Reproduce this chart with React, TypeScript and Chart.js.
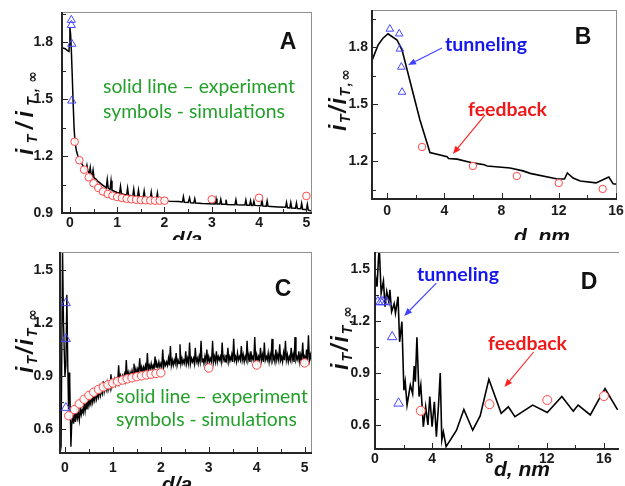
import React, { useEffect, useRef } from "react";
import { Chart, registerables } from "chart.js";

Chart.register(...registerables);

type P = [number, number];

// ---------------- Panel A ----------------
const aExperiment: P[] = [
  [-0.17, 1.77], [-0.1, 1.765], [-0.05, 1.755], [-0.02, 1.75], [-0.01, 1.79], [0.0, 1.875], [0.015, 1.84],
  [0.03, 1.76], [0.05, 1.62], [0.07, 1.47], [0.09, 1.34], [0.11, 1.27], [0.14, 1.225], [0.17, 1.2],
  [0.2, 1.18], [0.25, 1.16], [0.3, 1.14], [0.34, 1.125], [0.36, 1.15], [0.38, 1.12], [0.41, 1.11],
  [0.43, 1.14], [0.45, 1.1], [0.47, 1.095], [0.49, 1.125], [0.51, 1.085], [0.55, 1.078], [0.6, 1.065],
  [0.7, 1.045], [0.77, 1.032], [0.79, 1.075], [0.81, 1.03], [0.85, 1.025], [0.87, 1.07], [0.89, 1.02],
  [0.95, 1.013], [1.0, 1.008], [1.05, 1.004], [1.07, 1.04], [1.09, 1.002], [1.15, 0.998], [1.2, 0.995],
  [1.22, 1.03], [1.24, 0.993], [1.33, 0.99], [1.35, 1.025], [1.37, 0.988], [1.43, 0.986], [1.45, 1.02],
  [1.47, 0.985], [1.55, 0.982], [1.57, 1.015], [1.59, 0.98], [1.7, 0.977], [1.72, 1.01], [1.74, 0.975],
  [1.83, 0.972], [1.85, 1.005], [1.87, 0.97], [2.0, 0.965], [2.1, 0.962], [2.3, 0.96], [2.38, 0.958],
  [2.4, 0.985], [2.42, 0.956], [2.5, 0.955], [2.53, 0.98], [2.55, 0.954], [2.62, 0.953], [2.64, 0.975],
  [2.66, 0.952], [2.8, 0.95], [3.07, 0.948], [3.09, 0.975], [3.11, 0.947], [3.17, 0.947], [3.19, 0.972],
  [3.21, 0.946], [3.28, 0.946], [3.3, 0.97], [3.32, 0.945], [3.49, 0.944], [3.51, 0.97], [3.53, 0.943],
  [3.7, 0.942], [3.72, 0.968], [3.74, 0.941], [3.8, 0.941], [3.82, 0.965], [3.84, 0.94], [3.87, 0.94],
  [3.89, 0.962], [3.91, 0.94], [4.04, 0.938], [4.06, 0.968], [4.08, 0.937], [4.15, 0.936], [4.17, 0.963],
  [4.19, 0.935], [4.4, 0.932], [4.56, 0.93], [4.58, 0.955], [4.6, 0.928], [4.65, 0.927], [4.67, 0.955],
  [4.69, 0.926], [4.77, 0.925], [4.79, 0.952], [4.81, 0.923], [4.88, 0.922], [4.9, 0.95], [4.92, 0.92],
  [5.0, 0.918], [5.02, 0.945], [5.04, 0.915], [5.12, 0.91],
];
const aTunnelSim: P[] = [[0.03, 1.916], [0.03, 1.889], [0.04, 1.79], [0.04, 1.491]];
const aFeedbackSim: P[] = [
  [0.1, 1.275], [0.2, 1.178], [0.3, 1.128], [0.4, 1.088], [0.5, 1.056], [0.6, 1.032], [0.7, 1.013],
  [0.8, 1.0], [0.9, 0.991], [1.0, 0.984], [1.1, 0.979], [1.2, 0.975], [1.3, 0.972], [1.4, 0.97],
  [1.5, 0.968], [1.6, 0.967], [1.7, 0.966], [1.8, 0.965], [1.9, 0.965], [2.0, 0.965],
  [3.0, 0.972], [4.0, 0.98], [5.0, 0.99],
];
const aXTicks = [0, 1, 2, 3, 4, 5];
const aYTicks = [0.9, 1.2, 1.5, 1.8];

// ---------------- Panel B ----------------
const bExperiment: P[] = [
  [-1.05, 1.73], [-0.63, 1.81], [-0.3, 1.845], [0.07, 1.87], [0.7, 1.837], [1.05, 1.784], [2.3, 1.416],
  [3.0, 1.245], [4.2, 1.222], [4.3, 1.213], [4.9, 1.21], [6.0, 1.19], [6.8, 1.18], [7.0, 1.174],
  [8.6, 1.163], [9.5, 1.148], [10.0, 1.135], [11.9, 1.105], [12.4, 1.105], [12.6, 1.137], [13.0, 1.11],
  [13.5, 1.095], [14.6, 1.085], [15.5, 1.116], [15.8, 1.08], [16.1, 1.078],
];
const bTunnelSim: P[] = [[0.2, 1.895], [0.85, 1.87], [0.9, 1.79], [1.0, 1.695], [1.05, 1.563]];
const bFeedbackSim: P[] = [[2.45, 1.274], [6.0, 1.174], [9.07, 1.121], [12.0, 1.084], [15.07, 1.053]];
const bXTicks = [0, 4, 8, 12, 16];
const bYTicks = [1.2, 1.5, 1.8];

// ---------------- Panel C ----------------
const cExperiment: P[] = [
  [-0.1, 0.47], [-0.08, 0.5], [-0.05, 1.62], [-0.03, 1.2], [0.0, 0.9], [0.02, 0.96], [0.04, 1.36],
  [0.06, 0.95], [0.075, 0.71], [0.09, 0.92], [0.1, 0.88], [0.125, 0.5], [0.14, 0.62], [0.16, 0.68],
  [0.18, 0.63], [0.2, 0.69], [0.22, 0.64], [0.24, 0.7], [0.26, 0.66], [0.28, 0.69], [0.3, 0.65],
  [0.32, 0.72], [0.34, 0.68], [0.36, 0.71], [0.38, 0.69], [0.4, 0.74], [0.42, 0.7], [0.44, 0.75],
  [0.46, 0.71], [0.48, 0.77], [0.5, 0.73], [0.52, 0.76], [0.54, 0.74], [0.56, 0.79], [0.58, 0.75],
  [0.6, 0.78], [0.62, 0.76], [0.64, 0.81], [0.66, 0.77], [0.68, 0.8], [0.7, 0.78], [0.72, 0.83],
  [0.74, 0.79], [0.76, 0.82], [0.78, 0.8], [0.8, 0.87], [0.82, 0.81], [0.84, 0.84], [0.86, 0.82],
  [0.88, 0.86], [0.9, 0.82], [0.92, 0.85], [0.94, 0.83], [0.96, 0.91], [0.98, 0.84], [1.0, 0.87],
  [1.02, 0.85], [1.04, 0.88], [1.06, 0.85], [1.08, 0.88], [1.1, 0.86], [1.12, 0.96], [1.14, 0.87],
  [1.16, 0.9], [1.18, 0.87], [1.2, 0.9], [1.22, 0.88], [1.24, 0.91], [1.26, 0.88], [1.28, 0.99],
  [1.3, 0.89], [1.32, 0.92], [1.34, 0.89], [1.36, 0.92], [1.38, 0.9], [1.4, 0.93], [1.42, 0.9],
  [1.44, 0.97], [1.46, 0.91], [1.48, 0.94], [1.5, 0.91], [1.52, 0.94], [1.54, 0.92], [1.56, 1.0],
  [1.58, 0.92], [1.6, 0.95], [1.62, 0.92], [1.64, 0.95], [1.66, 0.93], [1.68, 0.96], [1.7, 0.93],
  [1.72, 1.03], [1.74, 0.93], [1.76, 0.96], [1.78, 0.94], [1.8, 0.97], [1.82, 0.94], [1.84, 0.96],
  [1.86, 0.94], [1.88, 1.01], [1.9, 0.95], [1.92, 0.97], [1.94, 0.95], [1.96, 0.98], [1.98, 0.95],
  [2.0, 0.97], [2.02, 0.95], [2.04, 1.05], [2.06, 0.95], [2.08, 0.98], [2.1, 0.96], [2.12, 0.98],
  [2.14, 0.96], [2.16, 1.0], [2.18, 0.96], [2.2, 1.07], [2.22, 0.96], [2.24, 0.99], [2.26, 0.96],
  [2.28, 0.99], [2.3, 0.97], [2.32, 1.03], [2.34, 0.96], [2.36, 0.99], [2.38, 0.97], [2.4, 1.08],
  [2.42, 0.97], [2.44, 1.0], [2.46, 0.97], [2.48, 0.99], [2.5, 0.97], [2.52, 1.04], [2.54, 0.97],
  [2.56, 1.0], [2.58, 0.97], [2.6, 1.09], [2.62, 0.97], [2.64, 1.0], [2.66, 0.98], [2.68, 1.0],
  [2.7, 0.97], [2.72, 1.06], [2.74, 0.98], [2.76, 1.0], [2.78, 0.97], [2.8, 1.01], [2.82, 0.98],
  [2.84, 1.1], [2.86, 0.98], [2.88, 1.0], [2.9, 0.97], [2.92, 1.01], [2.94, 0.98], [2.96, 1.05],
  [2.98, 0.98], [3.0, 1.01], [3.02, 0.98], [3.04, 1.0], [3.06, 0.98], [3.08, 1.1], [3.1, 0.98],
  [3.12, 1.01], [3.14, 0.98], [3.16, 1.04], [3.18, 0.98], [3.2, 1.01], [3.22, 0.99], [3.24, 1.01],
  [3.26, 0.98], [3.28, 1.09], [3.3, 0.99], [3.32, 1.01], [3.34, 0.98], [3.36, 1.02], [3.38, 0.99],
  [3.4, 1.06], [3.42, 0.98], [3.44, 1.01], [3.46, 0.99], [3.48, 1.02], [3.5, 0.98], [3.52, 1.11],
  [3.54, 0.99], [3.56, 1.01], [3.58, 0.98], [3.6, 1.03], [3.62, 0.99], [3.64, 1.01], [3.66, 0.99],
  [3.68, 1.07], [3.7, 0.99], [3.72, 1.02], [3.74, 0.98], [3.76, 1.01], [3.78, 0.99], [3.8, 1.1],
  [3.82, 0.99], [3.84, 1.02], [3.86, 0.98], [3.88, 1.04], [3.9, 0.99], [3.92, 1.01], [3.94, 0.99],
  [3.96, 1.12], [3.98, 0.99], [4.0, 1.02], [4.02, 0.98], [4.04, 1.01], [4.06, 0.99], [4.08, 1.06],
  [4.1, 0.99], [4.12, 1.02], [4.14, 0.98], [4.16, 1.09], [4.18, 0.99], [4.2, 1.01], [4.22, 0.99],
  [4.24, 1.03], [4.26, 0.98], [4.28, 1.02], [4.3, 0.99], [4.32, 1.11], [4.34, 0.99], [4.36, 1.01],
  [4.38, 0.98], [4.4, 1.05], [4.42, 0.99], [4.44, 1.02], [4.46, 0.99], [4.48, 1.08], [4.5, 0.99],
  [4.52, 1.01], [4.54, 0.98], [4.56, 1.03], [4.58, 0.99], [4.6, 1.1], [4.62, 0.99], [4.64, 1.02],
  [4.66, 0.98], [4.68, 1.01], [4.7, 0.99], [4.72, 1.06], [4.74, 0.99], [4.76, 1.02], [4.78, 0.98],
  [4.8, 1.12], [4.82, 0.99], [4.84, 1.01], [4.86, 0.99], [4.88, 1.04], [4.9, 0.98], [4.92, 1.02],
  [4.94, 0.99], [4.96, 1.09], [4.98, 0.99], [5.0, 1.01], [5.02, 0.98], [5.04, 1.05], [5.06, 0.99],
  [5.08, 1.13], [5.1, 0.99], [5.12, 1.02], [5.14, 0.99], [5.16, 1.07], [5.18, 0.99], [5.2, 1.0],
];
const cTunnelSim: P[] = [[0.02, 1.313], [0.02, 1.11], [0.02, 0.72]];
const cFeedbackSim: P[] = [
  [0.08, 0.675], [0.2, 0.71], [0.3, 0.742], [0.4, 0.768], [0.5, 0.79], [0.6, 0.808], [0.7, 0.824],
  [0.8, 0.838], [0.9, 0.85], [1.0, 0.86], [1.1, 0.869], [1.2, 0.877], [1.3, 0.884], [1.4, 0.89],
  [1.5, 0.896], [1.6, 0.901], [1.7, 0.906], [1.8, 0.91], [1.9, 0.914], [2.0, 0.918],
  [3.0, 0.945], [4.0, 0.962], [5.0, 0.974],
];
const cXTicks = [0, 1, 2, 3, 4, 5];
const cYTicks = [0.6, 0.9, 1.2, 1.5];

// ---------------- Panel D ----------------
const dExperiment: P[] = [
  [0, 1.476], [0.14, 1.398], [0.25, 1.571], [0.3, 1.62], [0.43, 1.36], [0.59, 1.43], [0.7, 1.283],
  [0.82, 1.37], [0.97, 1.31], [1.04, 1.38], [1.16, 1.254], [1.34, 1.3], [1.43, 1.245], [1.61, 1.34],
  [1.72, 1.08], [1.88, 1.196], [2.02, 0.8], [2.11, 0.85], [2.24, 0.715], [2.47, 0.83], [2.63, 0.78],
  [2.74, 0.94], [2.82, 0.85], [2.93, 1.106], [3.08, 0.764], [3.2, 0.83], [3.38, 0.59], [3.54, 0.706],
  [3.7, 0.6], [3.83, 0.764], [3.99, 0.59], [4.15, 0.734], [4.29, 0.533], [4.44, 0.715], [4.56, 0.9],
  [4.67, 0.513], [4.78, 0.56], [4.97, 0.475], [5.7, 0.57], [6.21, 0.69], [6.83, 0.57], [7.35, 0.652],
  [7.96, 0.864], [8.82, 0.667], [9.32, 0.705], [9.78, 0.648], [11.02, 0.715], [12.04, 0.672],
  [13.06, 0.764], [13.86, 0.68], [14.2, 0.715], [15.05, 0.658], [15.6, 0.74], [16.08, 0.81],
  [16.96, 0.687],
];
const dTunnelSim: P[] = [[0.2, 1.31], [0.4, 1.31], [0.55, 1.31], [0.8, 1.31], [1.2, 1.108], [1.65, 0.725]];
const dFeedbackSim: P[] = [[3.2, 0.682], [8.0, 0.72], [12.04, 0.744], [16.0, 0.767]];
const dXTicks = [0, 4, 8, 12, 16];
const dYTicks = [0.6, 0.9, 1.2, 1.5];

// ---------------- styling / layout ----------------
const SANS = '"Liberation Sans", Arial, sans-serif';
const CAL = 'Lato, "Open Sans", sans-serif';
const GREEN = "#22a02a";
const BLUE_T = "#1616ee";
const RED_T = "#f01818";
const CIRCLE = "#ff4646";
const TRI = "#4646ff";
const AXIS = "#262626";
const FRAME = "#8f8f8f";

type TextItem = { text: string; x: number; y: number; color: string; family: string; weight: string; size: number; width?: number; align?: CanvasTextAlign };
type Arrow = { from: P; to: P; color: string };
type Panel = {
  key: string; left: number; top: number; w: number; h: number;
  plotTop: number; plotRight: number; plotBottom: number; yAxisW: number;
  xMin: number; xMax: number; yMin: number; yMax: number;
  xTicks: number[]; yTicks: number[]; xPad: number; yPad: number; yDigits: number;
  line: P[]; tri: P[]; circ: P[]; lineW: number; triR: number; circR: number;
  texts: TextItem[]; arrows: Arrow[];
  yTitle: { cx: number; cy: number; len: number };
  xTitle: { text: string; cx: number; base: number };
  rightBorder: boolean;
};

const green = (text: string, x: number, y: number, width: number): TextItem => ({ text, x, y, width, color: GREEN, family: CAL, weight: "normal", size: 20 });
const letter = (text: string, x: number, y: number): TextItem => ({ text, x, y, color: "#111", family: SANS, weight: "bold", size: 23, align: "center" });
const bold = (text: string, x: number, y: number, width: number, color: string): TextItem => ({ text, x, y, width, color, family: CAL, weight: "bold", size: 18 });

const PANELS: Panel[] = [
  {
    key: "A", left: 0, top: 0, w: 318, h: 240, plotTop: 12, plotRight: 315, plotBottom: 213, yAxisW: 62,
    xMin: -0.167, xMax: 5.125, yMin: 0.9, yMax: 1.958, xTicks: aXTicks, yTicks: aYTicks, xPad: 2, yPad: 9, yDigits: 1,
    line: aExperiment, tri: aTunnelSim, circ: aFeedbackSim, lineW: 1.5, triR: 4.7, circR: 3.8,
    texts: [letter("A", 288, 43), green("solid line – experiment", 103, 87, 192), green("symbols - simulations", 103, 112, 182)],
    arrows: [], yTitle: { cx: 25, cy: 113, len: 84 }, xTitle: { text: "d/a", cx: 187, base: 246 }, rightBorder: true,
  },
  {
    key: "B", left: 318, top: 0, w: 307, h: 240, plotTop: 10, plotRight: 299, plotBottom: 199, yAxisW: 54,
    xMin: -1.05, xMax: 16.07, yMin: 1.0, yMax: 1.995, xTicks: bXTicks, yTicks: bYTicks, xPad: 4, yPad: 4, yDigits: 1,
    line: bExperiment, tri: bTunnelSim, circ: bFeedbackSim, lineW: 1.6, triR: 4.4, circR: 3.7,
    texts: [letter("B", 265, 38), bold("tunneling", 127, 45, 82, BLUE_T), bold("feedback", 150, 110, 79, RED_T)],
    arrows: [{ from: [3.84, 1.795], to: [1.47, 1.705], color: "#4040ff" }, { from: [6.84, 1.442], to: [4.6, 1.237], color: "#ff2020" }],
    yTitle: { cx: 20, cy: 100, len: 62 }, xTitle: { text: "d, nm", cx: 224, base: 243 }, rightBorder: true,
  },
  {
    key: "C", left: 0, top: 240, w: 318, h: 246, plotTop: 12, plotRight: 315, plotBottom: 213, yAxisW: 60,
    xMin: -0.103, xMax: 5.15, yMin: 0.464, yMax: 1.602, xTicks: cXTicks, yTicks: cYTicks, xPad: 7, yPad: 7, yDigits: 1,
    line: cExperiment, tri: cTunnelSim, circ: cFeedbackSim, lineW: 1.4, triR: 5.2, circR: 4.2,
    texts: [letter("C", 283, 50), green("solid line – experiment", 116, 157, 192), green("symbols - simulations", 116, 180, 181)],
    arrows: [], yTitle: { cx: 25, cy: 101, len: 64 }, xTitle: { text: "d/a", cx: 177, base: 251 }, rightBorder: true,
  },
  {
    key: "D", left: 318, top: 240, w: 307, h: 246, plotTop: 12, plotRight: 307, plotBottom: 209, yAxisW: 57,
    xMin: 0, xMax: 17.02, yMin: 0.4615, yMax: 1.598, xTicks: dXTicks, yTicks: dYTicks, xPad: 2, yPad: 5, yDigits: 1,
    line: dExperiment, tri: dTunnelSim, circ: dFeedbackSim, lineW: 1.6, triR: 5.5, circR: 4.5,
    texts: [letter("D", 271, 43), bold("tunneling", 99, 35, 82, BLUE_T), bold("feedback", 170, 104, 79, RED_T)],
    arrows: [{ from: [4.29, 1.419], to: [2.04, 1.229], color: "#4040ff" }, { from: [11.09, 1.021], to: [9.05, 0.819], color: "#ff2020" }],
    yTitle: { cx: 22, cy: 98, len: 64 }, xTitle: { text: "d, nm", cx: 204, base: 236 }, rightBorder: false,
  },
];

function minors(ticks: number[], min: number, max: number): number[] {
  const s = ticks[1] - ticks[0];
  const out: number[] = [];
  for (let i = -1; i < ticks.length; i++) {
    const v = ticks[0] + s * (i + 0.5);
    if (v >= min && v <= max) out.push(v);
  }
  return out;
}

function drawText(ctx: CanvasRenderingContext2D, t: TextItem) {
  let size = t.size;
  ctx.font = `${t.weight} ${size}px ${t.family}`;
  if (t.width) {
    const w = ctx.measureText(t.text).width;
    size = (size * t.width) / w;
    ctx.font = `${t.weight} ${size}px ${t.family}`;
  }
  ctx.fillStyle = t.color;
  ctx.textAlign = t.align || "left";
  ctx.textBaseline = "middle";
  ctx.fillText(t.text, t.x, t.y);
}

function drawYTitle(ctx: CanvasRenderingContext2D, cx: number, cy: number, len: number) {
  const pieces: [string, boolean][] = [["i", false], ["T", true], ["/", false], ["i", false], ["T", true], [",", true], ["∞", true]];
  const mainF = `italic bold 23px ${SANS}`;
  const subF = `italic bold 14px ${SANS}`;
  const infF = `bold 14px "DejaVu Sans", sans-serif`;
  const fontOf = (t: string, s: boolean) => (t === "∞" ? infF : s ? subF : mainF);
  const widths = pieces.map(([t, s]) => { ctx.font = fontOf(t, s); return ctx.measureText(t).width; });
  const total = widths.reduce((a, b) => a + b, 0);
  const gap = Math.max(0, (len - total) / (pieces.length - 1));
  ctx.save();
  ctx.translate(cx, cy);
  ctx.rotate(-Math.PI / 2);
  ctx.fillStyle = "#111";
  ctx.textAlign = "left";
  ctx.textBaseline = "alphabetic";
  let x = -len / 2;
  pieces.forEach(([t, s], i) => {
    ctx.font = fontOf(t, s);
    ctx.fillText(t, x, s ? 12 : 8);
    x += widths[i] + gap;
  });
  ctx.restore();
}

function drawArrow(ctx: CanvasRenderingContext2D, x1: number, y1: number, x2: number, y2: number, color: string) {
  const ang = Math.atan2(y2 - y1, x2 - x1);
  const hl = 8, hw = 3.2;
  const bx = x2 - Math.cos(ang) * hl, by = y2 - Math.sin(ang) * hl;
  ctx.strokeStyle = color;
  ctx.fillStyle = color;
  ctx.lineWidth = 1.1;
  ctx.beginPath();
  ctx.moveTo(x1, y1);
  ctx.lineTo(bx, by);
  ctx.stroke();
  ctx.beginPath();
  ctx.moveTo(x2, y2);
  ctx.lineTo(bx - Math.sin(ang) * hw, by + Math.cos(ang) * hw);
  ctx.lineTo(bx + Math.sin(ang) * hw, by - Math.cos(ang) * hw);
  ctx.closePath();
  ctx.fill();
}

function decorPlugin(p: Panel) {
  return {
    id: "decor" + p.key,
    afterDraw(chart: any) {
      const ctx: CanvasRenderingContext2D = chart.ctx;
      const xs = chart.scales.x, ys = chart.scales.y;
      ctx.save();
      p.texts.forEach((t) => drawText(ctx, t));
      p.arrows.forEach((a) =>
        drawArrow(ctx, xs.getPixelForValue(a.from[0]), ys.getPixelForValue(a.from[1]), xs.getPixelForValue(a.to[0]), ys.getPixelForValue(a.to[1]), a.color)
      );
      drawYTitle(ctx, p.yTitle.cx, p.yTitle.cy, p.yTitle.len);
      ctx.font = `italic bold 21px ${SANS}`;
      ctx.fillStyle = "#111";
      ctx.textAlign = "center";
      ctx.textBaseline = "alphabetic";
      ctx.fillText(p.xTitle.text, p.xTitle.cx, p.xTitle.base);
      ctx.restore();
    },
  };
}

function makeChart(canvas: HTMLCanvasElement, p: Panel) {
  const tickFont = { family: SANS, size: 14, weight: "bold" as const };
  return new Chart(canvas, {
    type: "scatter",
    data: {
      datasets: [
        {
          data: p.line.map(([x, y]) => ({ x, y })), showLine: true, pointRadius: 0, borderColor: "#000",
          borderWidth: p.lineW, tension: 0, order: 3,
        },
        {
          data: p.circ.map(([x, y]) => ({ x, y })), pointStyle: "circle", pointRadius: p.circR, borderColor: CIRCLE,
          backgroundColor: "rgba(255,255,255,0.9)", pointBorderWidth: 1, order: 2,
        },
        {
          data: p.tri.map(([x, y]) => ({ x, y })), pointStyle: "triangle", pointRadius: p.triR, borderColor: TRI,
          backgroundColor: "rgba(255,255,255,0)", pointBorderWidth: 1, order: 1,
        },
      ] as any,
    },
    options: {
      animation: false,
      responsive: false,
      maintainAspectRatio: false,
      devicePixelRatio: 1,
      layout: { padding: { left: 0, top: p.plotTop, right: p.w - p.plotRight, bottom: 0 } },
      plugins: { legend: { display: false }, tooltip: { enabled: false } },
      scales: {
        x: {
          type: "linear", min: p.xMin, max: p.xMax,
          grid: { display: false, drawTicks: false }, border: { display: false },
          afterBuildTicks: (s: any) => { s.ticks = p.xTicks.map((v) => ({ value: v })); },
          afterFit: (s: any) => { s.height = p.h - p.plotBottom; s.paddingLeft = 0; s.paddingRight = 0; },
          ticks: { font: tickFont, color: "#1a1a1a", padding: p.xPad, autoSkip: false, maxRotation: 0, callback: (v: any) => String(v) },
        },
        y: {
          type: "linear", min: p.yMin, max: p.yMax,
          grid: { display: false, drawTicks: false }, border: { display: false },
          afterBuildTicks: (s: any) => { s.ticks = p.yTicks.map((v) => ({ value: v })); },
          afterFit: (s: any) => { s.width = p.yAxisW; s.paddingTop = 0; s.paddingBottom = 0; },
          ticks: { font: tickFont, color: "#1a1a1a", padding: p.yPad, autoSkip: false, callback: (v: any) => Number(v).toFixed(p.yDigits) },
        },
      },
    } as any,
    plugins: [decorPlugin(p)],
  });
}

// frame + inward ticks as thin HTML elements placed with the chart's own scales
function addFrame(host: HTMLElement, chart: any, p: Panel): HTMLElement[] {
  const xs = chart.scales.x, ys = chart.scales.y;
  const L = xs.left, R = xs.right, T = ys.top, B = ys.bottom;
  const els: HTMLElement[] = [];
  const mk = (x: number, y: number, w: number, h: number, color: string) => {
    const d = document.createElement("div");
    d.style.position = "absolute";
    d.style.left = `${p.left + x}px`;
    d.style.top = `${p.top + y}px`;
    d.style.width = `${w}px`;
    d.style.height = `${h}px`;
    d.style.background = color;
    d.style.pointerEvents = "none";
    host.appendChild(d);
    els.push(d);
  };
  mk(L, T, R - L, 1, FRAME);
  if (p.rightBorder) mk(R - 1, T, 1, B - T, FRAME);
  mk(L - 1, T, 2, B - T + 1, AXIS);
  mk(L - 1, B - 1, R - L + 1, 2, AXIS);
  p.xTicks.forEach((v) => mk(Math.round(xs.getPixelForValue(v)) - 0.5, B - 6, 1, 6, AXIS));
  minors(p.xTicks, p.xMin, p.xMax).forEach((v) => mk(Math.round(xs.getPixelForValue(v)) - 0.5, B - 4, 1, 4, AXIS));
  p.yTicks.forEach((v) => mk(L, Math.round(ys.getPixelForValue(v)) - 0.5, 6, 1, AXIS));
  minors(p.yTicks, p.yMin, p.yMax).forEach((v) => mk(L, Math.round(ys.getPixelForValue(v)) - 0.5, 4, 1, AXIS));
  return els;
}

export default function App() {
  const refs = useRef<(HTMLCanvasElement | null)[]>([]);
  const hostRef = useRef<HTMLDivElement>(null);
  useEffect(() => {
    const charts = PANELS.map((p, i) => makeChart(refs.current[i] as HTMLCanvasElement, p));
    const host = hostRef.current as HTMLDivElement;
    const added: HTMLElement[] = [];
    charts.forEach((c, i) => added.push(...addFrame(host, c, PANELS[i])));
    return () => {
      added.forEach((el) => el.remove());
      charts.forEach((c) => c.destroy());
    };
  }, []);
  return (
    <div ref={hostRef} style={{ position: "fixed", left: 0, top: 0, width: 625, height: 486, background: "#fff", overflow: "hidden" }}>
      {PANELS.map((p, i) => (
        <canvas
          key={p.key}
          ref={(el) => { refs.current[i] = el; }}
          width={p.w}
          height={p.h}
          style={{ position: "absolute", left: p.left, top: p.top, width: p.w, height: p.h }}
        />
      ))}
    </div>
  );
}
